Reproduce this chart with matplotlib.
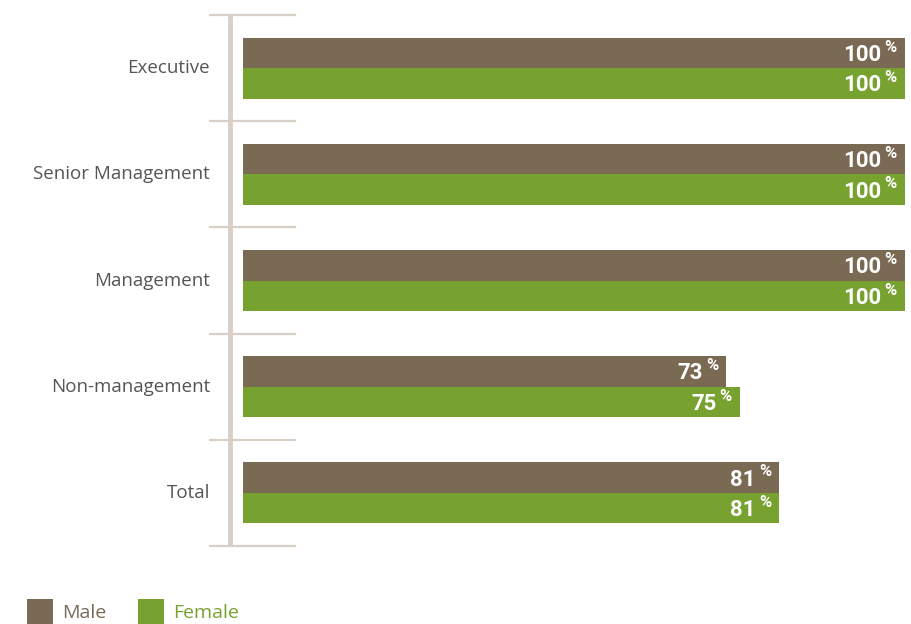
import matplotlib.pyplot as plt
from matplotlib.patches import Rectangle
from matplotlib.transforms import blended_transform_factory
import numpy as np

plt.rcParams['font.family'] = ['Roboto', 'DejaVu Sans']

categories = ['Executive', 'Senior Management', 'Management', 'Non-management', 'Total']
male = [100, 100, 100, 73, 81]
female = [100, 100, 100, 75, 81]

male_color = '#7a6953'
female_color = '#78a22f'
rule_color = '#d8d0c6'
text_color = '#555555'
label_font = ['Open Sans', 'DejaVu Sans']

W, H = 911, 624
fig = plt.figure(figsize=(W / 100, H / 100), dpi=100)

# axes spans the plotting band in pixel terms
left, right, top, bottom = 243, 905, 15, 546
ax = fig.add_axes([left / W, 1 - bottom / H, (right - left) / W, (bottom - top) / H])
ax.set_xlim(0, 100)
ax.set_ylim(len(categories), 0)
ax.axis('off')

y = np.arange(len(categories)) + 0.5
bar_h = 0.288
ax.barh(y - bar_h / 2, male, height=bar_h, color=male_color, linewidth=0)
ax.barh(y + bar_h / 2, female, height=bar_h, color=female_color, linewidth=0)

# value labels: bold number plus small raised percent sign
def value_label(val, yc):
    ax.annotate('%', xy=(val, yc), xytext=(-5.8, 0.8), textcoords='offset points',
                ha='right', va='baseline', color='white', fontsize=12, fontweight='bold')
    ax.annotate(str(val), xy=(val, yc), xytext=(-16.8, -5.8), textcoords='offset points',
                ha='right', va='baseline', color='white', fontsize=16, fontweight='bold')

for i in range(len(categories)):
    value_label(male[i], y[i] - bar_h / 2)
    value_label(female[i], y[i] + bar_h / 2)

# separator ticks and vertical rule, positioned in figure x
trans = blended_transform_factory(fig.transFigure, ax.transData)
for b in np.arange(len(categories) + 1):
    ax.plot([209 / W, 296 / W], [b, b], transform=trans, color=rule_color,
            lw=1.6, clip_on=False, solid_capstyle='butt')
ax.plot([230 / W, 230 / W], [0, len(categories)], transform=trans, color=rule_color,
        lw=3.5, clip_on=False, solid_capstyle='butt')

for i, c in enumerate(categories):
    ax.text(210 / W, y[i], c, transform=trans, ha='right', va='center',
            fontsize=13.5, color=text_color, family=label_font)

# legend
for x0, label, col in [(27, 'Male', male_color), (138, 'Female', female_color)]:
    fig.patches.append(Rectangle((x0 / W, 0), 26 / W, 25 / H, transform=fig.transFigure,
                                 color=col, linewidth=0))
    fig.text((x0 + 35) / W, 11 / H, label, ha='left', va='center',
             fontsize=14, color=col, family=label_font)

fig.savefig('out.png', dpi=100)
